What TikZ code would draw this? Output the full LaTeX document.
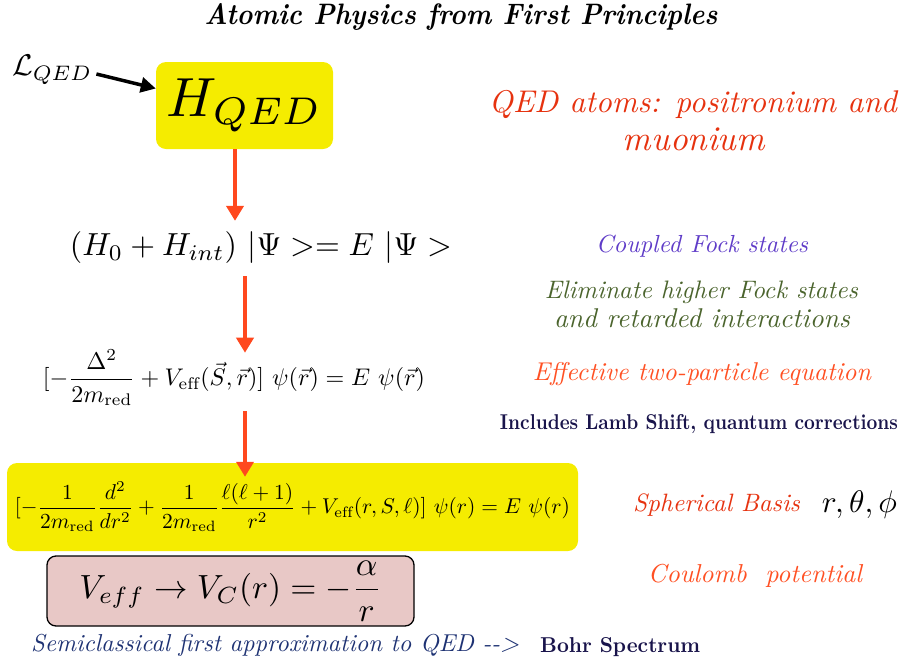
\documentclass[tikz,border=0pt]{standalone}
\usepackage{amsmath}
\usepackage{graphicx}
\usepackage{fontspec}
\usetikzlibrary{arrows.meta}
\definecolor{hlyellow}{RGB}{245,236,0}
\definecolor{pinkbox}{RGB}{232,200,198}
\definecolor{arrowor}{RGB}{255,72,30}
\definecolor{qedred}{RGB}{230,50,15}
\definecolor{fockpurple}{RGB}{95,60,200}
\definecolor{elimgreen}{RGB}{75,100,45}
\definecolor{effor}{RGB}{255,80,35}
\definecolor{navy}{RGB}{25,20,75}
\definecolor{semiblue}{RGB}{30,50,115}
\newcommand\fw[2]{\resizebox{#1pt}{!}{#2}}
\newcommand\fwh[3]{\resizebox{#1pt}{#2pt}{#3}}
\tikzset{
  txt/.style={inner sep=0pt},
  hand/.style={inner sep=0pt, font=\itshape},
  oarrow/.style={draw=arrowor, line width=4pt, -{Triangle[width=17pt,length=15pt]}},
  ybox/.style={fill=hlyellow, rounded corners=10pt, inner sep=0pt}
}
\begin{document}
\begin{tikzpicture}[x=1pt,y=-1pt]
\useasboundingbox (0,0) rectangle (903,665);

% title
\node[txt, anchor=base] (title) at (461,24) {\fwh{513}{21}{\bfseries\itshape Atomic Physics from First Principles}};

% L_QED and H_QED
\node[txt, anchor=west] (lqed) at (12,70) {\fw{80}{$\mathcal{L}_{QED}$}};
\node[ybox, minimum width=177pt, minimum height=87pt] (hqed) at (244.5,105.5) {\fw{155}{$H_{QED}$}};
\draw[line width=3.5pt, -{Triangle[width=15pt,length=15pt]}] ([shift={(4pt,-4pt)}]lqed.east) -- ([yshift=17pt]hqed.west);

% equations
\node[txt] (eq1) at (261,248) {\fw{382}{$(H_0+H_{int})\ |\Psi >= E\ |\Psi >$}};
\node[txt] (eq2) at (234,378) {\fw{382}{$\displaystyle [-\frac{\Delta^2}{2m_{\rm red}}+V_{\rm eff}(\vec S,\vec r)]\ \psi(\vec r)=E\ \psi(\vec r)$}};
\node[ybox, minimum width=571pt, minimum height=88pt] (eq3) at (292.5,507) {\fw{555}{$\displaystyle [-\frac{1}{2m_{\rm red}}\frac{d^2}{dr^2}+\frac{1}{2m_{\rm red}}\frac{\ell(\ell+1)}{r^2}+V_{\rm eff}(r,S,\ell)]\ \psi(r)=E\ \psi(r)$}};
\node[draw=black, line width=1.3pt, fill=pinkbox, rounded corners=9pt, inner sep=0pt, minimum width=367pt, minimum height=70pt] (vc) at (230.5,591) {\fw{302}{$V_{eff}\rightarrow V_C(r)=-\dfrac{\alpha}{r}$}};

% orange arrows
\draw[oarrow] ([xshift=-9.5pt]hqed.south) -- ([shift={(-26pt,11pt)}]eq1.north);
\draw[oarrow] ([shift={(-16pt,-12pt)}]eq1.south) -- ([shift={(11pt,-3pt)}]eq2.north);
\draw[oarrow] ([shift={(11pt,-5pt)}]eq2.south) -- ([shift={(-47.5pt,-14pt)}]eq3.north);

% bottom line
\node[hand, anchor=west, text=semiblue] (semi) at (31,645) {\fw{488}{Semiclassical first approximation to QED -{}-{}>}};
\node[txt, anchor=base west, text=navy] (bohr) at (540,652) {\fwh{160}{15}{\bfseries Bohr Spectrum}};

% right column
\node[hand, text=qedred] (qed1) at (693,104) {\fw{408}{QED atoms: positronium and}};
\node[hand, text=qedred] (qed2) at (694,139) {\fw{142}{muonium}};
\node[hand, text=fockpurple] (fock) at (702,246) {\fw{212}{Coupled Fock states}};
\node[hand, text=elimgreen] (elim1) at (701.5,292) {\fw{313}{Eliminate higher Fock states}};
\node[hand, text=elimgreen] (elim2) at (702,318) {\fw{296}{and retarded interactions}};
\node[hand, text=effor] (eff) at (702,374) {\fw{338}{Effective two-particle equation}};
\node[txt, anchor=base, text=navy] (lamb) at (699,429) {\fwh{398}{15}{\bfseries Includes Lamb Shift, quantum corrections}};
\node[hand, text=qedred] (sph) at (716.5,505) {\fw{167}{Spherical Basis}};
\node[txt] (rtp) at (859.5,505) {\fw{75}{$r,\theta,\phi$}};
\node[hand, text=effor] (coul) at (755,576) {\fw{214}{Coulomb\ \ potential}};
\end{tikzpicture}
\end{document}
